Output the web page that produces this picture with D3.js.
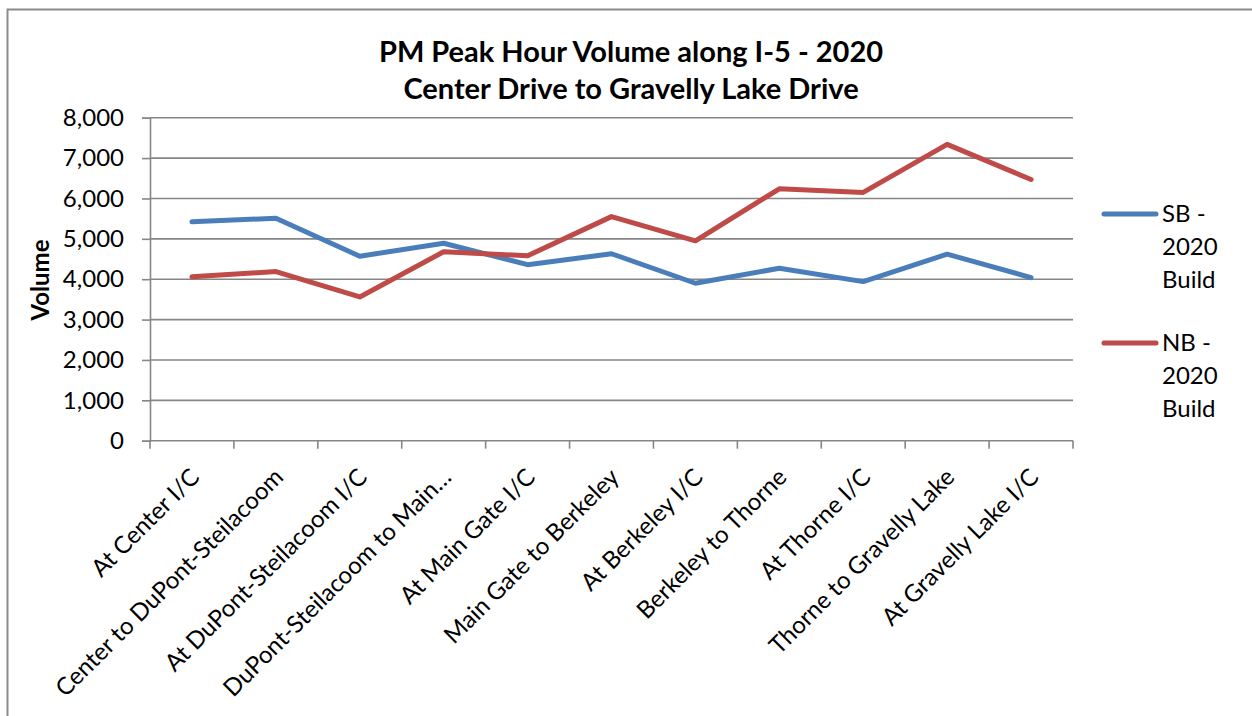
<!DOCTYPE html>
<html>
<head>
<meta charset="utf-8">
<script src="https://cdn.jsdelivr.net/npm/d3@7"></script>
<style>
  html, body { margin: 0; padding: 0; background: #fff; }
  svg { display: block; font-family: Lato, "Noto Sans", sans-serif; }
</style>
</head>
<body>
<svg id="chart" width="1252" height="716"></svg>
<script>
// Segments along I-5, south to north
const categories = [
  "At Center I/C",
  "Center to DuPont-Steilacoom",
  "At DuPont-Steilacoom I/C",
  "DuPont-Steilacoom to Main…",
  "At Main Gate I/C",
  "Main Gate to Berkeley",
  "At Berkeley I/C",
  "Berkeley to Thorne",
  "At Thorne I/C",
  "Thorne to Gravelly Lake",
  "At Gravelly Lake I/C"
];

// PM peak hour volumes, 2020 Build
const sbValues = [5420, 5510, 4570, 4890, 4360, 4630, 3900, 4270, 3940, 4620, 4040];
const nbValues = [4060, 4190, 3560, 4680, 4580, 5550, 4950, 6240, 6150, 7340, 6470];

const seriesNames = [["SB -", "2020", "Build"], ["NB -", "2020", "Build"]];
const yTicks = [0, 1000, 2000, 3000, 4000, 5000, 6000, 7000, 8000];
const titleLines = ["PM Peak Hour Volume along I-5 - 2020", "Center Drive to Gravelly Lake Drive"];

const series = [
  { name: seriesNames[0], values: sbValues, color: "#4a7ebb" },
  { name: seriesNames[1], values: nbValues, color: "#be4b48" }
];

const svg = d3.select("#chart");
const plot = { left: 150, right: 1073, top: 117.7, bottom: 440.7 };
const gridColor = "#868686";

// Outer chart frame
svg.append("rect")
  .attr("x", 7.5).attr("y", 9.5)
  .attr("width", 1270).attr("height", 730)
  .attr("fill", "none").attr("stroke", "#8a8a8a").attr("stroke-width", 2);

const x = d3.scaleBand().domain(categories).range([plot.left, plot.right]).padding(0);
const y = d3.scaleLinear().domain([0, 8000]).range([plot.bottom, plot.top]);
const cx = d => x(d) + x.bandwidth() / 2;

// Horizontal gridlines
svg.append("g").selectAll("line")
  .data(yTicks.filter(t => t > 0))
  .join("line")
  .attr("x1", plot.left).attr("x2", plot.right)
  .attr("y1", d => y(d)).attr("y2", d => y(d))
  .attr("stroke", gridColor).attr("stroke-width", 1.6);

// Y axis
const yAxis = svg.append("g")
  .attr("transform", `translate(${plot.left},0)`)
  .call(d3.axisLeft(y).tickValues(yTicks).tickSize(8).tickPadding(18).tickFormat(d3.format(",")));
yAxis.select(".domain").attr("stroke", gridColor).attr("stroke-width", 1.6);
yAxis.selectAll(".tick line").attr("stroke", gridColor).attr("stroke-width", 1.6);
yAxis.selectAll(".tick text")
  .attr("font-family", "Lato, sans-serif").attr("font-size", 24).attr("fill", "#000");

// X axis: ticks sit on category boundaries
const xg = svg.append("g");
xg.append("line")
  .attr("x1", plot.left).attr("x2", plot.right)
  .attr("y1", plot.bottom).attr("y2", plot.bottom)
  .attr("stroke", gridColor).attr("stroke-width", 1.6);
const boundaries = categories.map(c => x(c)).concat([plot.right]);
xg.selectAll("line.tick")
  .data(boundaries)
  .join("line")
  .attr("class", "tick")
  .attr("x1", d => d).attr("x2", d => d)
  .attr("y1", plot.bottom).attr("y2", plot.bottom + 8)
  .attr("stroke", gridColor).attr("stroke-width", 1.6);
xg.selectAll("text")
  .data(categories)
  .join("text")
  .attr("transform", d => `translate(${cx(d) + 3},${plot.bottom + 32}) rotate(-45)`)
  .attr("text-anchor", "end")
  .attr("dy", "0.35em")
  .attr("font-size", 24)
  .attr("fill", "#000")
  .text(d => d);

// Series lines
const line = d3.line()
  .x((v, i) => cx(categories[i]))
  .y(v => y(v));
svg.append("g").selectAll("path")
  .data(series)
  .join("path")
  .attr("d", s => line(s.values))
  .attr("fill", "none")
  .attr("stroke", s => s.color)
  .attr("stroke-width", 5)
  .attr("stroke-linejoin", "round")
  .attr("stroke-linecap", "round");

// Title
svg.append("text")
  .attr("x", 631).attr("y", 62)
  .attr("text-anchor", "middle")
  .attr("font-size", 29).attr("font-weight", "bold")
  .selectAll("tspan")
  .data(titleLines)
  .join("tspan")
  .attr("x", 631)
  .attr("dy", (d, i) => i === 0 ? 0 : 37)
  .text(d => d);

// Y axis title
svg.append("text")
  .attr("transform", "translate(49,280) rotate(-90)")
  .attr("text-anchor", "middle")
  .attr("font-size", 24).attr("font-weight", "bold")
  .text("Volume");

// Legend
const legend = svg.append("g");
const legendRows = [214, 343];
series.forEach((s, i) => {
  const ly = legendRows[i];
  legend.append("line")
    .attr("x1", 1104).attr("x2", 1156)
    .attr("y1", ly).attr("y2", ly)
    .attr("stroke", s.color).attr("stroke-width", 5)
    .attr("stroke-linecap", "round");
  legend.append("text")
    .attr("x", 1162).attr("y", ly)
    .attr("font-size", 24)
    .selectAll("tspan")
    .data(s.name)
    .join("tspan")
    .attr("x", 1162)
    .attr("dy", (d, j) => j === 0 ? "0.35em" : 33)
    .text(d => d);
});
</script>
</body>
</html>
